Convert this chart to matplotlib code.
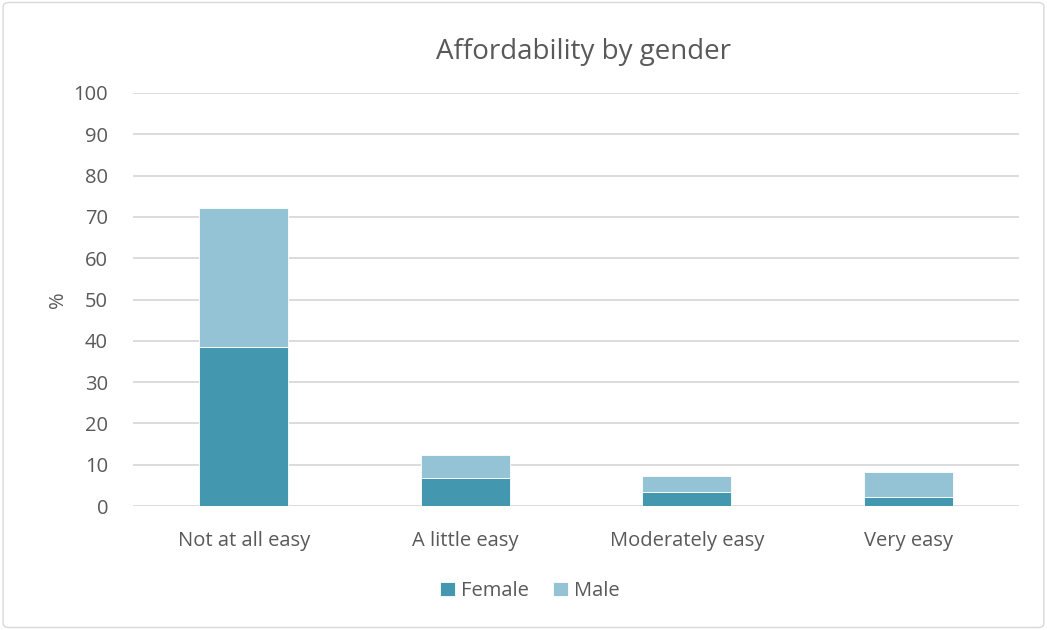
import numpy as np
import matplotlib.pyplot as plt
from matplotlib.patches import FancyBboxPatch

# data
categories = ["Not at all easy", "A little easy", "Moderately easy", "Very easy"]
female = [38.6, 6.8, 3.5, 2.2]
male = [33.5, 5.5, 3.7, 6.0]

plt.rcParams['font.family'] = ['Open Sans', 'DejaVu Sans']
txt = '#595959'

fig = plt.figure(figsize=(10.47, 6.3), dpi=100)
ax = fig.add_axes([133/1047, 1-506/630, 886/1047, 413/630])

x = np.arange(len(categories))
ax.bar(x, female, width=0.4, color='#4398AF', edgecolor='white', linewidth=0.6, label='Female', zorder=3)
ax.bar(x, male, width=0.4, bottom=female, color='#93C3D4', edgecolor='white', linewidth=0.6, label='Male', zorder=3)

ax.set_xlim(-0.5, 3.5)
ax.set_ylim(0, 100)
ax.set_yticks(range(0, 101, 10))
ax.grid(axis='y', color='#d9d9d9', linewidth=1.3, zorder=0)
for s in ax.spines.values():
    s.set_visible(False)
ax.tick_params(length=0, colors=txt, labelsize=14.5)
ax.tick_params(axis='y', pad=18)
ax.tick_params(axis='x', pad=18)
ax.set_xticks(x)
ax.set_xticklabels(categories)
ax.set_ylabel('%', color=txt, fontsize=14.5, labelpad=4)
fig.text(584/1047, 1-52/630, 'Affordability by gender', ha='center', va='center', fontsize=20, color=txt)

fig.legend(loc='center', bbox_to_anchor=(530/1047, 1-591/630), ncol=2, frameon=False,
           fontsize=14.5, labelcolor=txt, handlelength=0.75, handleheight=0.75, columnspacing=1.2, handletextpad=0.3)

border = FancyBboxPatch((0.003, 0.004), 0.994, 0.992, boxstyle='round,pad=0,rounding_size=0.006',
                        transform=fig.transFigure, fill=False, edgecolor='#d9d9d9', linewidth=1)
fig.patches.append(border)

fig.savefig('out.png', dpi=100)
